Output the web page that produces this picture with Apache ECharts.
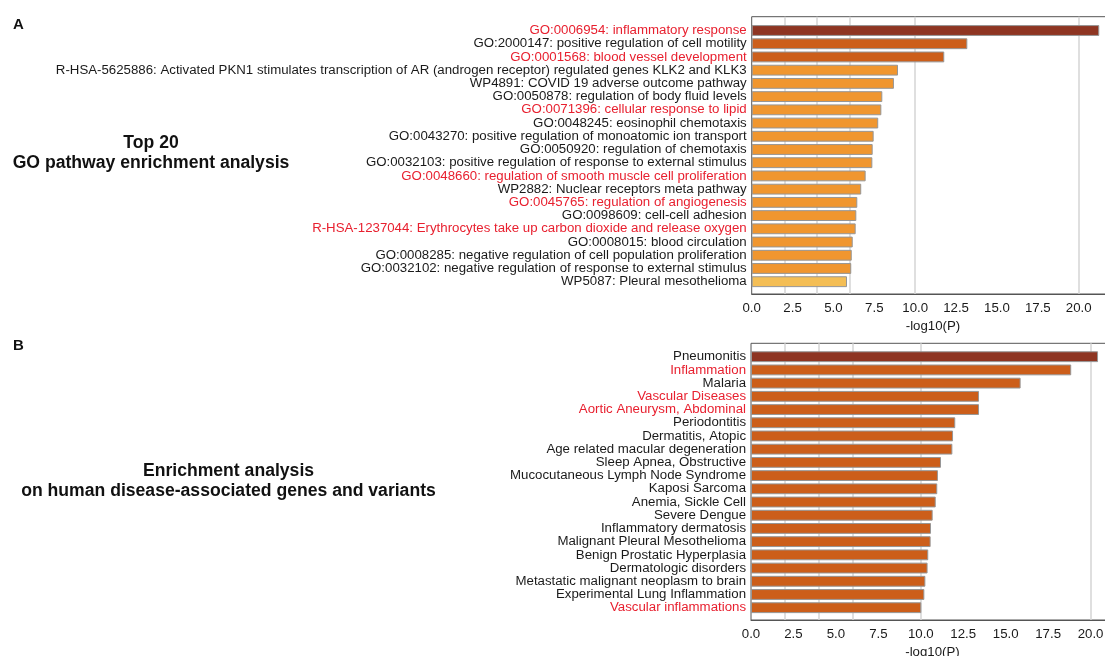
<!DOCTYPE html>
<html>
<head>
<meta charset="utf-8">
<script src="https://cdn.jsdelivr.net/npm/echarts@6/dist/echarts.min.js"></script>
<style>
  html, body { margin: 0; padding: 0; background: #ffffff; }
  #chart { width: 1105px; height: 656px; }
</style>
</head>
<body>
<div id="chart"></div>
<script>
// Panel A: top 20 enriched GO / pathway terms
const goTerms = [
  'GO:0006954: inflammatory response',
  'GO:2000147: positive regulation of cell motility',
  'GO:0001568: blood vessel development',
  'R-HSA-5625886: Activated PKN1 stimulates transcription of AR (androgen receptor) regulated genes KLK2 and KLK3',
  'WP4891: COVID 19 adverse outcome pathway',
  'GO:0050878: regulation of body fluid levels',
  'GO:0071396: cellular response to lipid',
  'GO:0048245: eosinophil chemotaxis',
  'GO:0043270: positive regulation of monoatomic ion transport',
  'GO:0050920: regulation of chemotaxis',
  'GO:0032103: positive regulation of response to external stimulus',
  'GO:0048660: regulation of smooth muscle cell proliferation',
  'WP2882: Nuclear receptors meta pathway',
  'GO:0045765: regulation of angiogenesis',
  'GO:0098609: cell-cell adhesion',
  'R-HSA-1237044: Erythrocytes take up carbon dioxide and release oxygen',
  'GO:0008015: blood circulation',
  'GO:0008285: negative regulation of cell population proliferation',
  'GO:0032102: negative regulation of response to external stimulus',
  'WP5087: Pleural mesothelioma'
];
const goLogP = [21.26, 13.19, 11.78, 8.95, 8.70, 7.99, 7.93, 7.74, 7.46, 7.40,
                7.38, 6.97, 6.70, 6.46, 6.40, 6.36, 6.18, 6.12, 6.09, 5.83];

// Panel B: disease-associated gene set enrichment
const diseaseTerms = [
  'Pneumonitis', 'Inflammation', 'Malaria', 'Vascular Diseases',
  'Aortic Aneurysm, Abdominal', 'Periodontitis', 'Dermatitis, Atopic',
  'Age related macular degeneration', 'Sleep Apnea, Obstructive',
  'Mucocutaneous Lymph Node Syndrome', 'Kaposi Sarcoma', 'Anemia, Sickle Cell',
  'Severe Dengue', 'Inflammatory dermatosis', 'Malignant Pleural Mesothelioma',
  'Benign Prostatic Hyperplasia', 'Dermatologic disorders',
  'Metastatic malignant neoplasm to brain', 'Experimental Lung Inflammation',
  'Vascular inflammations'
];
const diseaseLogP = [20.44, 18.86, 15.88, 13.43, 13.43, 12.03, 11.90, 11.86, 11.19, 11.01,
                     10.97, 10.88, 10.70, 10.60, 10.58, 10.44, 10.40, 10.27, 10.21, 10.03];

// Terms of particular interest, shown in red
const highlightedTerms = [
  'GO:0006954: inflammatory response',
  'GO:0001568: blood vessel development',
  'GO:0071396: cellular response to lipid',
  'GO:0048660: regulation of smooth muscle cell proliferation',
  'GO:0045765: regulation of angiogenesis',
  'R-HSA-1237044: Erythrocytes take up carbon dioxide and release oxygen',
  'Inflammation', 'Vascular Diseases', 'Aortic Aneurysm, Abdominal',
  'Vascular inflammations'
];

// Axis tick step and reference grid lines
const tickStep = 2.5;
const referenceLines = [2, 4, 6, 10, 20];

const FONT = '"Liberation Sans", Arial, Helvetica, sans-serif';
const TEXT = '#1a1a1a';
const RED = '#e8202f';
const LABEL_SIZE = 13.25;

// colour bands by -log10(P)
function bandColor(v) {
  if (v > 20) return '#8e3522';
  if (v > 10) return '#cc5e1a';
  if (v > 6) return '#f0962f';
  return '#f4be55';
}

function categoryData(names) {
  return names.map(n => highlightedTerms.includes(n)
    ? { value: n, textStyle: { color: RED } }
    : n);
}

// the plot frame runs slightly past the right edge of the page
function frameGrid(left, top, width, height) {
  return { left: left, top: top, width: width, height: height, show: true,
           outerBoundsMode: 'none', containLabel: false,
           borderColor: '#555', borderWidth: 1, backgroundColor: 'transparent' };
}
function barGrid(left, top, width, height) {
  return { left: left, top: top, width: width, height: height,
           outerBoundsMode: 'none', containLabel: false };
}

function frameX(gridIndex, max) {
  return {
    type: 'value', gridIndex: gridIndex, min: 0, max: max, interval: tickStep,
    axisLine: { show: true, lineStyle: { color: '#555', width: 1 } },
    axisTick: { show: false },
    splitLine: { show: false },
    axisLabel: { show: true, margin: 8, fontSize: LABEL_SIZE, color: TEXT, fontFamily: FONT,
                 showMaxLabel: false, formatter: v => v.toFixed(1) },
    name: '-log10(P)', nameLocation: 'middle', nameGap: 26,
    nameTextStyle: { fontSize: LABEL_SIZE, color: TEXT, fontFamily: FONT }
  };
}
function barX(gridIndex, max) {
  return { type: 'value', gridIndex: gridIndex, min: 0, max: max, show: false,
           splitLine: { show: false } };
}
function frameY(gridIndex) {
  return { type: 'value', gridIndex: gridIndex, min: 0, max: 1, show: false };
}
function barY(gridIndex, names) {
  return {
    type: 'category', gridIndex: gridIndex, inverse: true, data: categoryData(names),
    axisLine: { show: false }, axisTick: { show: false }, splitLine: { show: false },
    axisLabel: { margin: 5, fontSize: LABEL_SIZE, color: TEXT, fontFamily: FONT, interval: 0 }
  };
}

function guideSeries(axisIndex) {
  return {
    type: 'line', xAxisIndex: axisIndex, yAxisIndex: axisIndex, data: [], z: 1,
    silent: true,
    markLine: {
      silent: true, symbol: 'none', animation: false, z: 1,
      label: { show: false },
      lineStyle: { color: '#d5d5d5', width: 1.5, type: 'solid' },
      data: referenceLines.map(v => ({ xAxis: v }))
    }
  };
}
function barSeries(axisIndex, values) {
  return {
    type: 'bar', xAxisIndex: axisIndex, yAxisIndex: axisIndex, data: values, z: 3,
    barCategoryGap: '18%',
    itemStyle: { color: p => bandColor(p.value), borderColor: '#969696', borderWidth: 1 }
  };
}

const letterStyle = { fontSize: 15, fontWeight: 'bold', color: '#111', fontFamily: FONT };
const titleStyle = { fontSize: 17.6, fontWeight: 'bold', color: '#111', fontFamily: FONT, lineHeight: 20 };

const option = {
  animation: false,
  backgroundColor: '#ffffff',
  textStyle: { fontFamily: FONT },
  title: [
    { text: 'A', left: 13, top: 17, padding: 0, textStyle: letterStyle },
    { text: 'Top 20\nGO pathway enrichment analysis', left: 151, top: 133,
      textAlign: 'center', padding: 0, textStyle: titleStyle },
    { text: 'B', left: 13, top: 338, padding: 0, textStyle: letterStyle },
    { text: 'Enrichment analysis\non human disease-associated genes and variants', left: 228.5, top: 461,
      textAlign: 'center', padding: 0, textStyle: titleStyle }
  ],
  grid: [
    frameGrid(751.7, 16.7, 362.6, 277.3),
    barGrid(751.7, 23.9, 362.6, 264.4),
    frameGrid(751, 343.3, 363, 276.7),
    barGrid(751, 350.1, 363, 264.2)
  ],
  xAxis: [frameX(0, 22.18), barX(1, 22.18), frameX(2, 21.38), barX(3, 21.38)],
  yAxis: [frameY(0), barY(1, goTerms), frameY(2), barY(3, diseaseTerms)],
  series: [guideSeries(0), barSeries(1, goLogP), guideSeries(2), barSeries(3, diseaseLogP)]
};

const chart = echarts.init(document.getElementById('chart'), null, { renderer: 'canvas' });
chart.setOption(option);
</script>
</body>
</html>
